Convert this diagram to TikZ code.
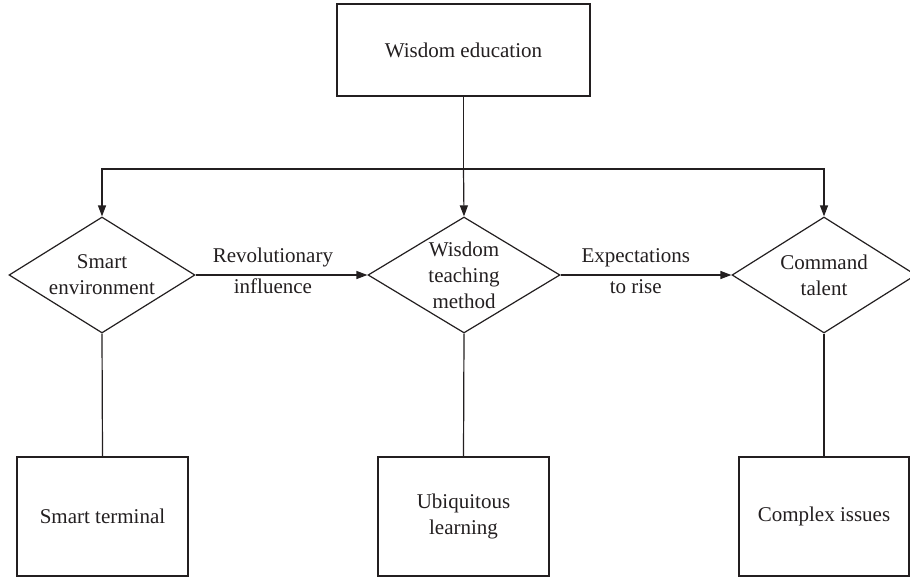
\documentclass[tikz,border=0pt]{standalone}
\usepackage{fontspec}
\setmainfont{Liberation Serif}
\usetikzlibrary{shapes.geometric,arrows.meta}
\definecolor{ink}{HTML}{231F20}
\begin{document}
\begin{tikzpicture}[x=1pt,y=-1pt,
  every node/.style={font=\fontsize{21}{26}\selectfont, text=ink, align=center},
  boxnode/.style={draw=ink, line width=1.2pt, rectangle, inner sep=0pt},
  dnode/.style={draw=ink, line width=1.2pt, diamond, inner sep=-40pt, minimum height=116pt},
  conn/.style={draw=ink, line width=1.2pt},
  arr/.style={conn, -{Triangle[length=11pt,width=8pt]}}]
\useasboundingbox (0,0) rectangle (910,578);
\fill[white] (0,0) rectangle (910,578);

\node[boxnode, minimum width=253pt, minimum height=92pt] (top) at (463.5,50) {Wisdom education};

\node[dnode, minimum width=186pt] (L) at (102,275) {Smart\\environment};
\node[dnode, minimum width=192pt] (M) at (464,275) {Wisdom\\teaching\\method};
\node[dnode, minimum width=184pt] (R) at (824,275) {Command\\talent};

\node[boxnode, minimum width=171pt, minimum height=119pt] (B1) at (102.5,516.5) {Smart terminal};
\node[boxnode, minimum width=171pt, minimum height=119pt] (B2) at (463.5,516.5) {Ubiquitous\\learning};
\node[boxnode, minimum width=170pt, minimum height=119pt] (B3) at (824,516.5) {Complex issues};

\coordinate (j) at (463.5,169);
\draw[conn] (top.south) -- (j);
\draw[arr] (j) -| (L.north);
\draw[arr] (j) -| (R.north);
\draw[arr] (j) -- (M.north);

\draw[arr] (L.east) -- (M.west)
  node[pos=0.45, anchor=base, yshift=13pt] (t1) {Revolutionary}
  node[pos=0.45, anchor=base, yshift=-18pt] (t2) {influence};
\draw[arr] (M.east) -- (R.west)
  node[pos=0.44, anchor=base, yshift=13pt] (t3) {Expectations}
  node[pos=0.44, anchor=base, yshift=-18pt] (t4) {to rise};

\draw[conn] (L.south) -- (B1.north);
\draw[conn] (M.south) -- (B2.north);
\draw[conn] (R.south) -- (B3.north);
\end{tikzpicture}
\end{document}
